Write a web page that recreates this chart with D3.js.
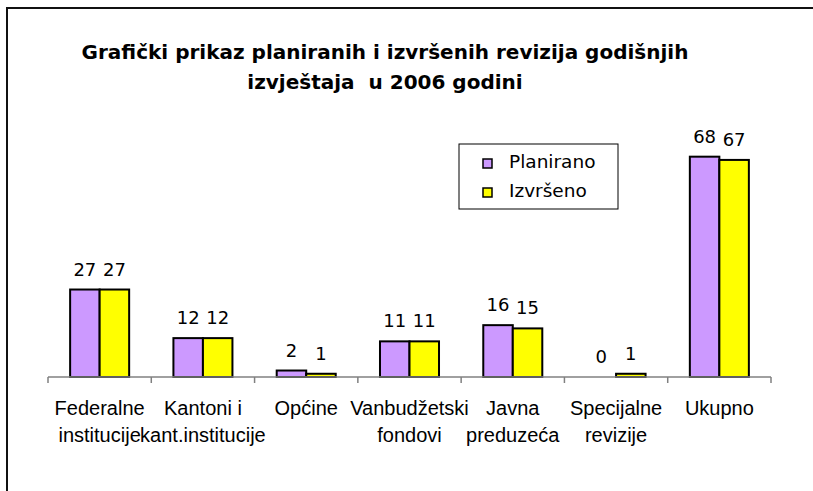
<!DOCTYPE html>
<html>
<head>
<meta charset="UTF-8"/>
<style>
  body { margin: 0; background: #fff; }
  svg { display: block; }
</style>
</head>
<body>
<script src="https://cdn.jsdelivr.net/npm/d3@7"></script>
<script>
// chart data
var categories = ["Federalne\ninstitucije", "Kantoni i\nkant.institucije", "Općine",
                  "Vanbudžetski\nfondovi", "Javna\npreduzeća", "Specijalne\nrevizije", "Ukupno"];
var seriesNames = ["Planirano", "Izvršeno"];
var planirano = [27, 12, 2, 11, 16, 0, 68];
var izvrseno  = [27, 12, 1, 11, 15, 1, 67];
var titleLines = ["Grafički prikaz planiranih i izvršenih revizija godišnjih", "izvještaja  u 2006 godini"];

var colors = ["#CC99FF", "#FFFF00"];
var W = 813, H = 491;
var labelFont = "'DejaVu Sans', Verdana, sans-serif";
var catFont = "'Liberation Sans', Arial, sans-serif";

var svg = d3.select("body").append("svg")
    .attr("width", W)
    .attr("height", H);

svg.append("rect")
    .attr("width", W).attr("height", H)
    .attr("fill", "#fff");

// outer frame (runs off right/bottom like the screenshot)
svg.append("rect")
    .attr("x", 7).attr("y", 8)
    .attr("width", W + 20).attr("height", H + 20)
    .attr("fill", "none")
    .attr("stroke", "#111")
    .attr("stroke-width", 2);

var x0 = d3.scaleBand()
    .domain(d3.range(categories.length))
    .range([48, 771])
    .padding(0);

var x1 = d3.scaleBand()
    .domain(d3.range(seriesNames.length))
    .range([0, x0.bandwidth()])
    .paddingInner(0)
    .paddingOuter(0.75);

var y = d3.scaleLinear()
    .domain([0, 80])
    .range([377, 377 - 3.24 * 80]);

var values = [planirano, izvrseno];

var groups = svg.selectAll("g.cat")
  .data(categories)
  .enter().append("g")
    .attr("class", "cat")
    .attr("transform", function(d, i){ return "translate(" + x0(i) + ",0)"; });

groups.selectAll("rect")
  .data(function(d, i){ return values.map(function(s, k){ return {k: k, v: s[i]}; }); })
  .enter().append("rect")
    .attr("x", function(d){ return x1(d.k); })
    .attr("y", function(d){ return y(d.v); })
    .attr("width", x1.bandwidth())
    .attr("height", function(d){ return y(0) - y(d.v); })
    .attr("fill", function(d){ return colors[d.k]; })
    .attr("stroke", "#000")
    .attr("stroke-width", function(d){ return d.v > 0 ? 2 : 0; });

groups.selectAll("text.val")
  .data(function(d, i){ return values.map(function(s, k){ return {k: k, v: s[i]}; }); })
  .enter().append("text")
    .attr("class", "val")
    .attr("x", function(d){ return x1(d.k) + x1.bandwidth() / 2; })
    .attr("y", function(d){ return y(d.v) - 14; })
    .attr("text-anchor", "middle")
    .attr("font-family", labelFont)
    .attr("font-size", "18px")
    .attr("fill", "#000")
    .text(function(d){ return d.v; });

// category axis
svg.append("line")
    .attr("x1", x0.range()[0]).attr("x2", x0.range()[1])
    .attr("y1", y(0)).attr("y2", y(0))
    .attr("stroke", "#808080")
    .attr("stroke-width", 1.5);

var tickPos = x0.domain().map(function(i){ return x0(i); }).concat([x0.range()[1]]);
svg.selectAll("line.tick")
  .data(tickPos)
  .enter().append("line")
    .attr("class", "tick")
    .attr("x1", function(d){ return d; }).attr("x2", function(d){ return d; })
    .attr("y1", y(0)).attr("y2", y(0) + 6)
    .attr("stroke", "#808080")
    .attr("stroke-width", 1.5);

var catText = svg.selectAll("text.cat")
  .data(categories)
  .enter().append("text")
    .attr("class", "cat")
    .attr("x", function(d, i){ return x0(i) + x0.bandwidth() / 2; })
    .attr("y", 415)
    .attr("text-anchor", "middle")
    .attr("font-family", catFont)
    .attr("font-size", "20px")
    .attr("fill", "#000");

catText.selectAll("tspan")
  .data(function(d){ return d.split("\n"); })
  .enter().append("tspan")
    .attr("x", function(){ return d3.select(this.parentNode).attr("x"); })
    .attr("dy", function(d, i){ return i ? 27 : 0; })
    .text(function(d){ return d; });

// title
svg.selectAll("text.title")
  .data(titleLines)
  .enter().append("text")
    .attr("class", "title")
    .attr("x", 385)
    .attr("y", function(d, i){ return 59 + i * 30; })
    .attr("text-anchor", "middle")
    .attr("font-family", labelFont)
    .attr("font-weight", "bold")
    .attr("font-size", "20px")
    .style("white-space", "pre")
    .text(function(d){ return d; });

// legend
var legend = svg.append("g").attr("transform", "translate(459,144)");
legend.append("rect")
    .attr("width", 159).attr("height", 65)
    .attr("fill", "#fff")
    .attr("stroke", "#000")
    .attr("stroke-width", 1);

var items = legend.selectAll("g.item")
  .data(seriesNames)
  .enter().append("g")
    .attr("class", "item")
    .attr("transform", function(d, i){ return "translate(24," + (15 + i * 29) + ")"; });

items.append("rect")
    .attr("width", 9).attr("height", 9)
    .attr("fill", function(d, i){ return colors[i]; })
    .attr("stroke", "#000")
    .attr("stroke-width", 1.5);

items.append("text")
    .attr("x", 26)
    .attr("y", 9)
    .attr("font-family", labelFont)
    .attr("font-size", "18.5px")
    .text(function(d){ return d; });
</script>
</body>
</html>
